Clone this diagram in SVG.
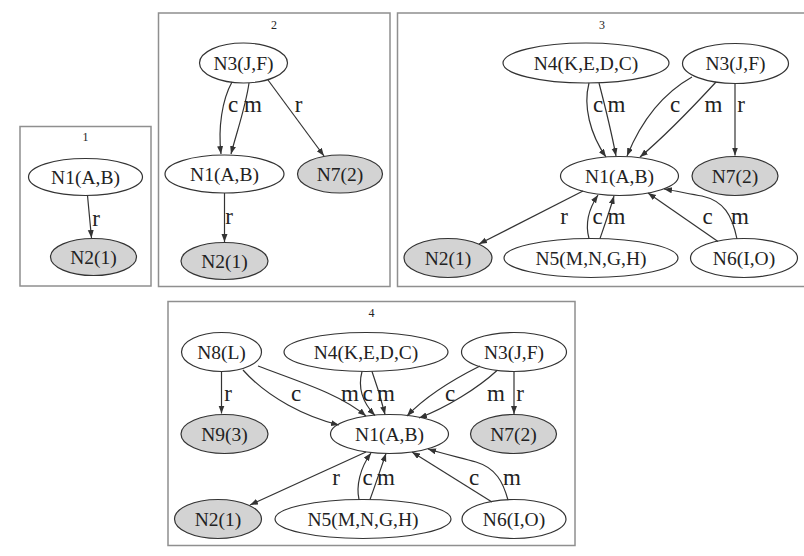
<svg xmlns="http://www.w3.org/2000/svg" width="804" height="556" viewBox="0 0 804 556">
  <style>
    .panel { fill: #ffffff; stroke: #8f8f8f; stroke-width: 1.5; }
    .title { font-family: "Liberation Serif", "Times New Roman", serif; font-size: 12px; text-anchor: middle; fill: #222; }
    .node ellipse { fill: #ffffff; stroke: #333; stroke-width: 1.2; }
    .node.leaf ellipse { fill: #d3d3d3; }
    .node text { font-family: "Liberation Serif", "Times New Roman", serif; font-size: 19.5px; text-anchor: middle; fill: #222; }
    .edges path { fill: none; stroke: #333; stroke-width: 1.2; marker-end: url(#arrow); }
    .edges text { font-family: "Liberation Serif", "Times New Roman", serif; font-size: 23px; text-anchor: middle; fill: #222; }
  </style>
  <defs>
    <marker id="arrow" markerUnits="userSpaceOnUse" markerWidth="9" markerHeight="7" refX="8" refY="3" orient="auto">
      <path d="M0,0 L8,3 L0,6 z" fill="#333"/>
    </marker>
  </defs>
  <rect width="804" height="556" fill="#ffffff"/>

  <!-- cluster 1 -->
  <g id="cluster1">
    <rect class="panel" x="20" y="126.5" width="131" height="159.5"/>
    <text class="title" x="85.5" y="141">1</text>
    <g id="c1_N1" class="node"><ellipse cx="85.5" cy="177" rx="57" ry="18.5"/><text x="85.5" y="183.5">N1(A,B)</text></g>
    <g id="c1_N2" class="node leaf"><ellipse cx="93.5" cy="257" rx="43" ry="18.5"/><text x="93.5" y="263.5">N2(1)</text></g>
    <g class="edges">
      <path d="M87.5,195.5 L91.5,238"/>
      <text x="96" y="226">r</text>
    </g>
  </g>

  <!-- cluster 2 -->
  <g id="cluster2">
    <rect class="panel" x="158.5" y="13" width="231.5" height="273.5"/>
    <text class="title" x="274" y="29">2</text>
    <g id="c2_N3" class="node"><ellipse cx="243.5" cy="63" rx="44" ry="20"/><text x="243.5" y="69.5">N3(J,F)</text></g>
    <g id="c2_N1" class="node"><ellipse cx="224.5" cy="174" rx="59.5" ry="19"/><text x="224.5" y="180.5">N1(A,B)</text></g>
    <g id="c2_N7" class="node leaf"><ellipse cx="340" cy="174" rx="42.5" ry="19"/><text x="340" y="180.5">N7(2)</text></g>
    <g id="c2_N2" class="node leaf"><ellipse cx="224.5" cy="261" rx="43.5" ry="18.5"/><text x="224.5" y="267.5">N2(1)</text></g>
    <g class="edges">
      <path d="M232,82 C222,100 218,128 221,154"/>
      <path d="M249,83 C246,105 238,128 231,154"/>
      <path d="M268,80 L324,156"/>
      <path d="M224.5,193 L224.5,242"/>
      <text x="233" y="112">c</text>
      <text x="253" y="112">m</text>
      <text x="298.5" y="112">r</text>
      <text x="229" y="224">r</text>
    </g>
  </g>

  <!-- cluster 3 -->
  <g id="cluster3">
    <rect class="panel" x="397.5" y="13" width="410" height="273.5"/>
    <text class="title" x="602" y="29">3</text>
    <g id="c3_N4" class="node"><ellipse cx="586" cy="63" rx="83" ry="20"/><text x="586" y="69.5">N4(K,E,D,C)</text></g>
    <g id="c3_N3" class="node"><ellipse cx="735.5" cy="63.5" rx="53" ry="20"/><text x="735.5" y="70">N3(J,F)</text></g>
    <g id="c3_N1" class="node"><ellipse cx="619.5" cy="176" rx="59" ry="19.5"/><text x="619.5" y="182.5">N1(A,B)</text></g>
    <g id="c3_N7" class="node leaf"><ellipse cx="735" cy="176" rx="43" ry="19.5"/><text x="735" y="182.5">N7(2)</text></g>
    <g id="c3_N2" class="node leaf"><ellipse cx="448" cy="258" rx="44" ry="19.5"/><text x="448" y="264.5">N2(1)</text></g>
    <g id="c3_N5" class="node"><ellipse cx="591" cy="258" rx="87" ry="19.5"/><text x="591" y="264.5">N5(M,N,G,H)</text></g>
    <g id="c3_N6" class="node"><ellipse cx="744" cy="258" rx="53.5" ry="19.5"/><text x="744" y="264.5">N6(I,O)</text></g>
    <g class="edges">
      <path d="M589,83 C583,106 590,134 606,157"/>
      <path d="M599,83 C605,106 611,130 616,156"/>
      <path d="M692,77 C660,95 640,124 627,156"/>
      <path d="M716,82 C692,108 665,136 640,157"/>
      <path d="M735,83.5 L735,155.5"/>
      <path d="M583,191 L479,244"/>
      <path d="M589,238.5 C585,224 588,210 598,195"/>
      <path d="M600,238.5 C605,224 610,210 614,196"/>
      <path d="M718,241.5 L648,193"/>
      <path d="M737,239 C732,215 724,201 702,196 C690,194 676,191 664,189"/>
      <text x="598" y="112">c</text>
      <text x="616.5" y="112">m</text>
      <text x="675" y="112">c</text>
      <text x="713.5" y="112">m</text>
      <text x="741" y="112">r</text>
      <text x="564" y="224">r</text>
      <text x="597.5" y="224">c</text>
      <text x="616.5" y="224">m</text>
      <text x="707.5" y="224">c</text>
      <text x="740" y="224">m</text>
    </g>
  </g>

  <!-- cluster 4 -->
  <g id="cluster4">
    <rect class="panel" x="168" y="301.5" width="407" height="244"/>
    <text class="title" x="371.5" y="317">4</text>
    <g id="c4_N8" class="node"><ellipse cx="221.5" cy="352" rx="40" ry="19.5"/><text x="221.5" y="358.5">N8(L)</text></g>
    <g id="c4_N4" class="node"><ellipse cx="366" cy="352" rx="82" ry="19.5"/><text x="366" y="358.5">N4(K,E,D,C)</text></g>
    <g id="c4_N3" class="node"><ellipse cx="514" cy="352" rx="52.5" ry="19.5"/><text x="514" y="358.5">N3(J,F)</text></g>
    <g id="c4_N9" class="node leaf"><ellipse cx="224.5" cy="434" rx="43.5" ry="19.5"/><text x="224.5" y="440.5">N9(3)</text></g>
    <g id="c4_N1" class="node"><ellipse cx="389.5" cy="434" rx="59" ry="19.5"/><text x="389.5" y="440.5">N1(A,B)</text></g>
    <g id="c4_N7" class="node leaf"><ellipse cx="513.5" cy="434" rx="43" ry="19.5"/><text x="513.5" y="440.5">N7(2)</text></g>
    <g id="c4_N2" class="node leaf"><ellipse cx="218" cy="519" rx="43.5" ry="19.5"/><text x="218" y="525.5">N2(1)</text></g>
    <g id="c4_N5" class="node"><ellipse cx="363" cy="519" rx="88" ry="19.5"/><text x="363" y="525.5">N5(M,N,G,H)</text></g>
    <g id="c4_N6" class="node"><ellipse cx="514" cy="519" rx="52" ry="19.5"/><text x="514" y="525.5">N6(I,O)</text></g>
    <g class="edges">
      <path d="M221.5,371.5 L221.5,413.5"/>
      <path d="M243,370 C268,398 306,417 339,425"/>
      <path d="M258,366 C300,382 340,394 366,416"/>
      <path d="M362,371.5 C357,390 364,404 375,415.5"/>
      <path d="M372,371.5 C378,388 382,402 385,414.5"/>
      <path d="M480,366 C452,380 424,398 407,416"/>
      <path d="M497,370.5 C478,388 446,408 419,418"/>
      <path d="M514,371.5 L514,414"/>
      <path d="M366,452 L250,505"/>
      <path d="M359,499.5 C356,486 360,468 371,453"/>
      <path d="M370,499.5 C375,486 381,468 386,453.5"/>
      <path d="M492,502 L412,452"/>
      <path d="M508,500 C503,482 496,468 476,462 C462,458 444,454 428,449"/>
      <text x="228" y="401">r</text>
      <text x="296" y="401">c</text>
      <text x="350" y="401">m</text>
      <text x="367.5" y="401">c</text>
      <text x="386" y="401">m</text>
      <text x="450" y="401">c</text>
      <text x="496" y="401">m</text>
      <text x="520" y="401">r</text>
      <text x="336" y="485">r</text>
      <text x="367.5" y="485">c</text>
      <text x="386" y="485">m</text>
      <text x="474" y="485">c</text>
      <text x="512" y="485">m</text>
    </g>
  </g>
</svg>
